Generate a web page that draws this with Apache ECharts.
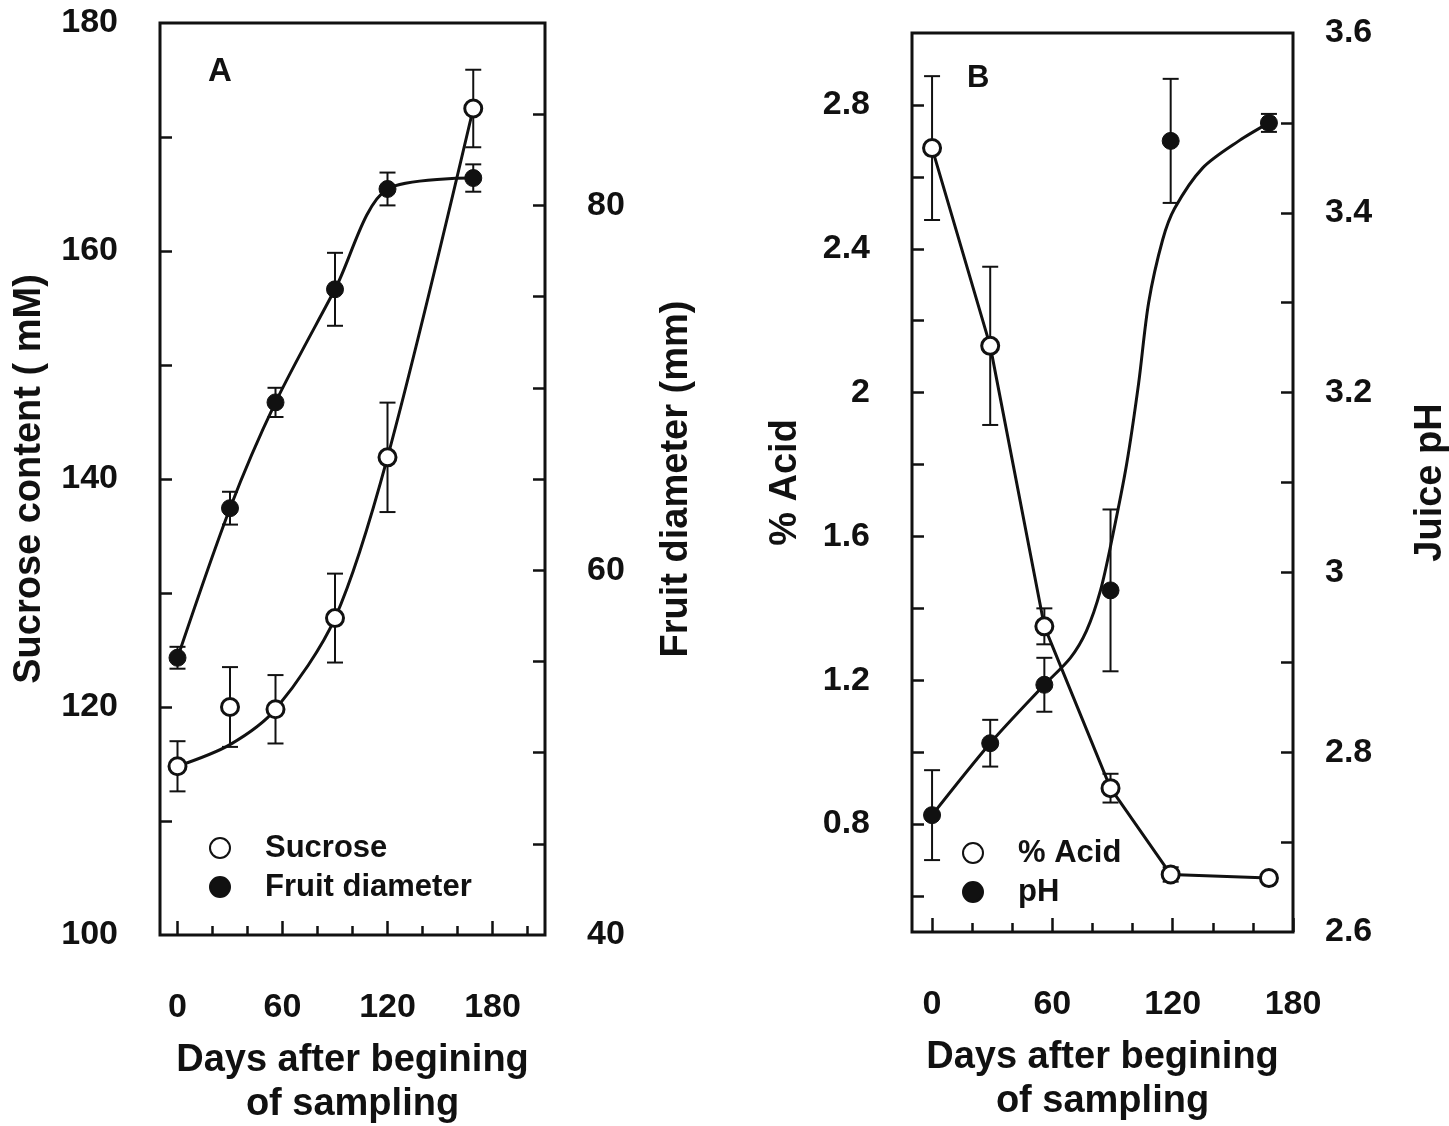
<!DOCTYPE html>
<html lang="en">
<head>
    <meta charset="UTF-8">
    <title>Sucrose, fruit diameter, acid and pH</title>
    <style>
        html, body { margin: 0; padding: 0; background: #fff; }
        .box { width: 1449px; height: 1126px; }
    </style>
</head>
<body>
    <div class="box" id="box"></div>
    <script src="https://cdn.jsdelivr.net/npm/echarts@6.0.0/dist/echarts.min.js"></script>
    <script>
        // panel A data (days, sucrose mM, fruit diameter mm)
        var daysA = [0, 30, 56, 90, 120, 169];
        var sucrose = [114.8, 120.0, 119.8, 127.8, 141.9, 172.5];
        var sucroseErr = [2.2, 3.5, 3.0, 3.9, 4.8, 3.4];
        var diameter = [55.2, 63.4, 69.2, 75.4, 80.9, 81.5];
        var diameterErr = [0.6, 0.9, 0.8, 2.0, 0.9, 0.75];
        // fitted sucrose curve
        var sucroseCurve = [[0, 114.8], [30, 116.7], [56, 119.8], [90, 127.8], [120, 141.9], [169, 172.5]];

        // panel B data (days, % acid, juice pH)
        var daysB = [0, 29, 56, 89, 119, 168];
        var acid = [2.68, 2.13, 1.35, 0.90, 0.66, 0.65];
        var acidErr = [0.20, 0.22, 0.05, 0.04, 0.02, 0];
        var ph = [2.73, 2.81, 2.875, 2.98, 3.48, 3.50];
        var phErr = [0.05, 0.026, 0.03, 0.09, 0.069, 0.01];
        // fitted pH curve
        var phCurve = [[0, 2.73], [29, 2.81], [56, 2.875], [69, 2.905], [77, 2.935], [84, 2.98], [90, 3.04],
                       [97, 3.12], [103, 3.21], [108, 3.30], [115, 3.37], [121, 3.405], [135, 3.45],
                       [153, 3.48], [168, 3.50]];

        // ticks and labels
        var xMinorA = [0, 20, 40, 60, 80, 100, 120, 140, 160, 180, 200];
        var xMinorB = [0, 20, 40, 60, 80, 100, 120, 140, 160];
        var xMajor = [0, 60, 120, 180];
        var sucTicks = [110, 120, 130, 140, 150, 160, 170];
        var sucLabels = [100, 120, 140, 160, 180];
        var diaTicks = [45, 50, 55, 60, 65, 70, 75, 80, 85];
        var diaLabels = [40, 60, 80];
        var acidTicks = [0.6, 0.8, 1.0, 1.2, 1.4, 1.6, 1.8, 2.0, 2.2, 2.4, 2.6, 2.8];
        var acidLabels = [0.8, 1.2, 1.6, 2.0, 2.4, 2.8];
        var phTicks = [2.7, 2.8, 2.9, 3.0, 3.1, 3.2, 3.3, 3.4, 3.5];
        var phLabels = [2.6, 2.8, 3.0, 3.2, 3.4, 3.6];

        var ink = '#111';
        var font = '"Liberation Sans", Arial, sans-serif';

        var myChart = echarts.init(document.getElementById('box'), null, { renderer: 'canvas' });

        function zip(xs, ys) {
            return xs.map(function (x, i) { return [x, ys[i]]; });
        }

        // error bars drawn through the axes' own coord()
        function errorBars(xi, yi, xs, vals, errs) {
            var d = [];
            xs.forEach(function (x, i) {
                if (errs[i] > 0) d.push([x, vals[i] - errs[i], vals[i] + errs[i]]);
            });
            return {
                type: 'custom', xAxisIndex: xi, yAxisIndex: yi, z: 3, silent: true,
                encode: { x: 0, y: [1, 2] },
                data: d,
                renderItem: function (params, api) {
                    var hi = api.coord([api.value(0), api.value(2)]);
                    var lo = api.coord([api.value(0), api.value(1)]);
                    var w = 8;
                    var st = { stroke: ink, lineWidth: 2 };
                    return {
                        type: 'group',
                        children: [
                            { type: 'line', shape: { x1: hi[0], y1: hi[1], x2: lo[0], y2: lo[1] }, style: st },
                            { type: 'line', shape: { x1: hi[0] - w, y1: hi[1], x2: hi[0] + w, y2: hi[1] }, style: st },
                            { type: 'line', shape: { x1: lo[0] - w, y1: lo[1], x2: lo[0] + w, y2: lo[1] }, style: st }
                        ]
                    };
                }
            };
        }

        function points(name, xi, yi, xs, vals, open) {
            return {
                name: name, type: 'scatter', xAxisIndex: xi, yAxisIndex: yi, z: 5,
                symbol: 'circle', symbolSize: 17,
                itemStyle: open ? { color: '#fff', borderColor: ink, borderWidth: 3, opacity: 1 }
                                : { color: ink, borderColor: ink, borderWidth: 1, opacity: 1 },
                data: zip(xs, vals)
            };
        }

        function curve(name, xi, yi, data, smooth) {
            return {
                name: name, type: 'line', xAxisIndex: xi, yAxisIndex: yi, z: 2,
                showSymbol: false, smooth: smooth, silent: true,
                lineStyle: { color: ink, width: 3 },
                data: data
            };
        }

        var labelStyle = { color: ink, fontSize: 34, fontWeight: 'bold', fontFamily: font };
        var nameStyle = { color: ink, fontSize: 38, fontWeight: 'bold', fontFamily: font, lineHeight: 44 };
        var tickLine = { color: ink, width: 2.5 };

        function xAxes(grid, max, minor) {
            return [
                {
                    gridIndex: grid, type: 'value', min: -10, max: max, position: 'bottom',
                    axisLine: { show: false, onZero: false },
                    axisTick: { inside: true, length: 9, lineStyle: tickLine, customValues: minor },
                    axisLabel: Object.assign({ margin: 56, customValues: xMajor }, labelStyle),
                    splitLine: { show: false },
                    name: 'Days after begining\nof sampling', nameLocation: 'middle', nameGap: 104,
                    nameTextStyle: nameStyle
                },
                {
                    gridIndex: grid, type: 'value', min: -10, max: max, position: 'bottom', offset: 0,
                    axisLine: { show: false, onZero: false },
                    axisTick: { inside: true, length: 14, lineStyle: tickLine, customValues: xMajor },
                    axisLabel: { show: false },
                    splitLine: { show: false }
                }
            ];
        }

        function yAxis(grid, pos, min, max, ticks, labels, margin, name, gap) {
            return {
                gridIndex: grid, type: 'value', position: pos, min: min, max: max,
                axisLine: { show: false, onZero: false },
                axisTick: { inside: true, length: 12, lineStyle: tickLine, customValues: ticks },
                axisLabel: Object.assign({ margin: margin, customValues: labels }, labelStyle),
                splitLine: { show: false },
                name: name, nameLocation: 'middle', nameRotate: 90, nameGap: gap,
                nameTextStyle: nameStyle
            };
        }

        var option = {
            backgroundColor: '#fff',
            animation: false,
            title: [
                { text: 'A', left: 203, top: 50, textStyle: { color: ink, fontSize: 33, fontWeight: 'bold', fontFamily: font } },
                { text: 'B', left: 962, top: 58, textStyle: { color: ink, fontSize: 31, fontWeight: 'bold', fontFamily: font } }
            ],
            legend: [
                {
                    data: ['Sucrose', 'Fruit diameter'], orient: 'vertical', left: 204, top: 826,
                    itemWidth: 20, itemHeight: 20, itemGap: 5, selectedMode: false,
                    textStyle: { color: ink, fontSize: 31, fontWeight: 'bold', fontFamily: font, lineHeight: 34, padding: [0, 0, 0, 30] }
                },
                {
                    data: ['% Acid', 'pH'], orient: 'vertical', left: 957, top: 831,
                    itemWidth: 20, itemHeight: 20, itemGap: 5, selectedMode: false,
                    textStyle: { color: ink, fontSize: 31, fontWeight: 'bold', fontFamily: font, lineHeight: 34, padding: [0, 0, 0, 30] }
                }
            ],
            grid: [
                { left: 160, top: 23, width: 385, height: 912, outerBoundsMode: 'none', show: true, borderColor: ink, borderWidth: 3, backgroundColor: 'transparent' },
                { left: 912, top: 33, width: 381, height: 899, outerBoundsMode: 'none', show: true, borderColor: ink, borderWidth: 3, backgroundColor: 'transparent' }
            ],
            xAxis: xAxes(0, 210, xMinorA).concat(xAxes(1, 180, xMinorB)),
            yAxis: [
                yAxis(0, 'left', 100, 180, sucTicks, sucLabels, 42, 'Sucrose content ( mM)', 108),
                yAxis(0, 'right', 40, 90, diaTicks, diaLabels, 42, 'Fruit diameter (mm)', 110),
                yAxis(1, 'left', 0.5, 3.0, acidTicks, acidLabels, 42, '% Acid', 104),
                yAxis(1, 'right', 2.6, 3.6, phTicks, phLabels, 32, 'Juice pH', 116)
            ],
            series: [
                curve('sucrose fit', 0, 0, sucroseCurve, 0.3),
                curve('diameter fit', 0, 1, zip(daysA, diameter), 0.3),
                errorBars(0, 0, daysA, sucrose, sucroseErr),
                errorBars(0, 1, daysA, diameter, diameterErr),
                points('Sucrose', 0, 0, daysA, sucrose, true),
                points('Fruit diameter', 0, 1, daysA, diameter, false),

                curve('acid line', 2, 2, zip(daysB, acid), false),
                curve('pH fit', 2, 3, phCurve, 0.3),
                errorBars(2, 2, daysB, acid, acidErr),
                errorBars(2, 3, daysB, ph, phErr),
                points('% Acid', 2, 2, daysB, acid, true),
                points('pH', 2, 3, daysB, ph, false)
            ]
        };

        myChart.setOption(option);

        window.addEventListener("resize", function () {
            myChart.resize();
        });
    </script>
</body>
</html>
